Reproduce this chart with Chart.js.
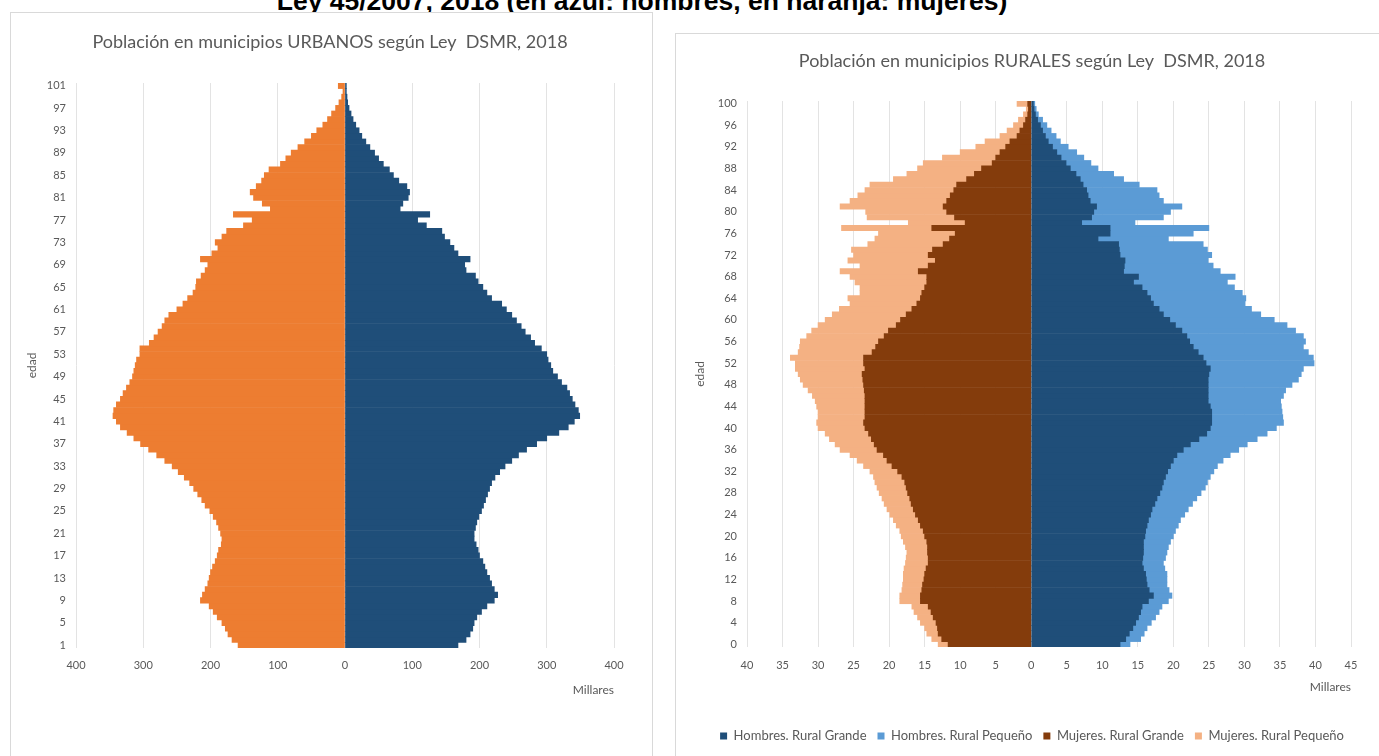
<!DOCTYPE html>
<html>
<head>
<meta charset="utf-8">
<script src="https://cdn.jsdelivr.net/npm/chart.js@4.4.0/dist/chart.umd.min.js"></script>
<style>
  body { margin: 0; background: #fff; width: 1379px; height: 756px; overflow: hidden; position: relative; }
  #cabecera { position: absolute; left: 142px; top: -12px; width: 1000px; text-align: center;
    font: bold 26.5px/26px "Liberation Sans", Arial, sans-serif; color: #000; white-space: nowrap; }
  .marco { position: absolute; border: 1px solid #d9d9d9; background: #fff; }
  canvas { position: absolute; }
</style>
</head>
<body>
<div id="cabecera">Ley 45/2007, 2018 (en azul: hombres, en naranja: mujeres)</div>
<div class="marco" style="left:10px; top:12px; width:641px; height:800px;"></div>
<div class="marco" style="left:675px; top:33px; width:800px; height:800px;"></div>
<canvas id="urbanos" width="640" height="744" style="left:10px; top:12px;"></canvas>
<canvas id="rurales" width="703" height="722" style="left:676px; top:34px;"></canvas>
<script>
// --- municipios urbanos (miles de personas) ---
var edadesU = [1,2,3,4,5,6,7,8,9,10,11,12,13,14,15,16,17,18,19,20,21,22,23,24,25,26,27,28,29,30,
  31,32,33,34,35,36,37,38,39,40,41,42,43,44,45,46,47,48,49,50,51,52,53,54,55,56,57,58,59,60,
  61,62,63,64,65,66,67,68,69,70,71,72,73,74,75,76,77,78,79,80,81,82,83,84,85,86,87,88,89,90,
  91,92,93,94,95,96,97,98,99,100,101];
var hombresU = [168,180,186,190,192,196,203,211,222,227,222,218,215,211,208,205,200,198,195,192,
  192,194,196,199,203,206,209,212,215,218,223,230,238,248,258,270,285,300,318,332,
  341,349,347,342,338,334,330,322,316,309,306,302,300,292,282,276,268,262,255,248,
  240,233,218,211,205,198,194,180,178,186,168,162,156,148,144,121,108,126,82,86,
  94,96,92,80,72,66,57,50,44,37,31,25,21,16,12,9,6,4,3,2,2];
var mujeresU = [159,168,174,178,183,190,196,202,215,212,208,204,202,200,197,193,190,188,184,183,
  185,188,191,196,201,208,213,219,225,231,239,248,257,268,280,292,304,314,324,334,
  340,345,344,340,334,330,325,320,316,314,312,310,305,305,291,284,278,272,268,262,
  250,241,234,226,222,221,214,208,204,215,198,189,193,183,176,151,138,166,111,123,
  136,141,132,124,120,113,96,88,80,70,60,50,42,33,26,20,14,9,5,3,10];
var etiquetasU = [1,5,9,13,17,21,25,29,33,37,41,45,49,53,57,61,65,69,73,77,81,85,89,93,97,101];

// --- municipios rurales (miles de personas) ---
var edadesR = [0,1,2,3,4,5,6,7,8,9,10,11,12,13,14,15,16,17,18,19,20,21,22,23,24,25,26,27,28,29,30,
  31,32,33,34,35,36,37,38,39,40,41,42,43,44,45,46,47,48,49,50,51,52,53,54,55,56,57,58,59,60,
  61,62,63,64,65,66,67,68,69,70,71,72,73,74,75,76,77,78,79,80,81,82,83,84,85,86,87,88,89,90,
  91,92,93,94,95,96,97,98,99,100];
var hombresGrande = [12.5,13.3,13.8,14.3,14.7,15.1,15.4,15.6,16.5,17.2,16.6,16.3,16.2,16.1,15.8,15.6,15.7,15.8,15.8,15.8,
  16.0,16.1,16.3,16.5,16.8,17.0,17.4,17.7,18.1,18.4,18.6,18.9,19.2,19.6,20.0,20.5,21.4,22.4,23.6,24.7,
  25.2,25.4,25.4,25.4,25.2,24.9,24.9,24.9,24.9,24.9,25.0,25.2,24.6,24.2,23.5,22.8,22.3,21.9,21.2,20.3,
  19.5,18.6,18.0,17.2,16.8,16.3,15.6,14.4,15.1,13.0,13.1,13.2,12.5,12.4,12.3,9.4,11.1,11.1,7.1,8.5,
  8.8,9.2,8.3,8.0,7.8,7.3,6.9,6.3,5.5,4.9,4.2,3.6,3.0,2.4,2.0,1.6,1.3,0.9,0.6,0.4,0.3];
var hombresPeque = [1.4,2.1,2.1,2.0,2.2,2.4,2.6,2.8,2.8,2.6,2.8,2.8,2.9,3.0,3.0,3.0,3.2,3.3,3.5,3.8,
  4.0,4.2,4.4,4.5,4.8,5.1,5.3,5.6,5.8,6.1,6.2,6.3,6.5,6.6,7.0,7.5,7.8,8.0,8.2,8.5,
  9.3,10.1,10.0,9.9,10.0,10.2,10.6,10.9,11.8,12.7,13.0,13.1,15.2,15.5,15.5,15.5,16.3,16.4,16.0,15.7,
  14.7,13.7,13.0,12.9,13.4,13.4,13.0,13.2,13.6,13.6,12.5,11.7,12.9,12.4,11.9,9.9,11.7,13.9,7.5,10.1,
  10.8,12.0,10.3,10.0,9.9,7.9,6.1,5.3,3.9,3.5,3.2,2.8,2.2,1.7,1.5,1.2,0.9,0.7,0.4,0.3,0.2];
var mujeresGrande = [11.7,12.6,13.1,13.2,13.4,13.8,14.1,14.5,15.6,15.6,15.4,15.3,15.1,15.0,14.8,14.5,14.5,14.6,14.6,14.7,
  15.0,15.2,15.6,15.9,16.3,16.6,16.9,17.1,17.4,17.6,17.8,18.2,18.8,19.6,20.3,20.8,21.7,22.1,22.5,22.9,
  23.4,23.6,23.4,23.4,23.4,23.4,23.4,23.5,23.6,23.7,23.8,23.4,23.6,23.6,22.4,21.9,21.5,20.7,20.1,19.0,
  18.4,17.6,16.8,16.1,15.6,15.4,15.0,14.7,14.7,15.9,14.5,13.5,14.5,13.9,12.4,11.5,10.7,14.0,9.3,10.8,
  11.9,12.4,11.9,11.4,10.9,10.5,9.1,8.0,7.0,5.5,5.0,4.4,3.6,3.0,2.0,1.6,1.1,0.8,0.5,0.4,0.5];
var mujeresPeque = [1.4,1.4,1.6,1.8,2.2,2.2,2.4,2.3,2.9,2.9,2.8,2.8,2.9,3.0,3.1,3.2,3.1,2.9,3.1,3.3,
  3.3,3.3,3.4,3.5,3.6,3.7,3.8,3.9,4.0,4.1,4.2,4.0,3.9,4.0,4.2,4.7,5.2,5.5,5.9,6.1,
  6.6,6.6,6.6,6.6,6.8,7.0,7.4,7.9,8.5,8.8,9.0,9.8,9.6,10.3,10.4,10.7,11.0,10.9,10.8,11.0,
  10.6,10.4,10.2,9.4,10.2,8.7,9.1,10.1,10.8,11.0,9.6,12.3,10.5,11.4,10.6,10.5,10.8,12.7,8.0,12.3,
  11.4,14.5,13.6,13.0,12.5,12.2,10.3,9.5,9.0,9.7,7.5,5.6,4.2,3.5,2.4,1.8,1.4,1.0,0.6,0.3,1.5];
var etiquetasR = [0,4,8,12,16,20,24,28,32,36,40,44,48,52,56,60,64,68,72,76,80,84,88,92,96,100];

var gris = '#595959';
var rejilla = '#e3e3e3';
Chart.defaults.font.family = 'Lato';
Chart.defaults.color = gris;

function negativo(arr) { return arr.map(function (v) { return -v; }); }

function escalas(minX, maxX, paso, etiquetas, o) {
  var s = {
    x: {
      type: 'linear', min: minX, max: maxX, stacked: true,
      ticks: { stepSize: paso, color: gris, font: { size: 11 }, padding: o.padX,
        callback: function (v) { return Math.abs(v); } },
      grid: { color: rejilla, drawTicks: false },
      border: { display: false },
      title: { display: true, text: 'Millares', align: 'end', color: gris, font: { size: 12 },
        padding: { top: 0, bottom: o.tituloAbajo } },
      afterFit: function (s) { s.height = o.altoX; }
    },
    y: {
      type: 'category', reverse: true, stacked: true,
      ticks: { autoSkip: false, color: gris, font: { size: 11 }, padding: 10,
        callback: function (v) {
          var e = this.getLabelForValue(v);
          return etiquetas.indexOf(e) >= 0 ? e : '';
        } },
      grid: { display: false, drawTicks: false },
      border: { display: false },
      title: { display: true, text: 'edad', color: gris, font: { size: 12 }, padding: 0 },
      afterFit: function (s) { s.width = o.anchoY; }
    },
    derecha: {
      position: 'right', display: true,
      grid: { display: false, drawTicks: false },
      border: { display: false },
      ticks: { display: false },
      afterFit: function (s) { s.width = o.anchoDer; }
    }
  };
  if (o.lineaCero) {
    // línea vertical en el cero, pintada encima de las barras
    s.cero = {
      type: 'linear', axis: 'x', position: 'bottom', min: minX, max: maxX, display: true, z: 1,
      ticks: { display: false, stepSize: paso },
      grid: { drawTicks: false, lineWidth: 1.5,
        color: function (c) { return c.tick && c.tick.value === 0 ? o.lineaCero : 'rgba(0,0,0,0)'; } },
      border: { display: false },
      afterFit: function (s) { s.height = 0; }
    };
  }
  return s;
}

var barra = { barPercentage: 1, categoryPercentage: 1, borderWidth: 0 };

new Chart(document.getElementById('urbanos'), {
  type: 'bar',
  data: {
    labels: edadesU,
    datasets: [
      Object.assign({ label: 'Hombres', data: hombresU, backgroundColor: '#1F4E79' }, barra),
      Object.assign({ label: 'Mujeres', data: negativo(mujeresU), backgroundColor: '#ED7D31' }, barra)
    ]
  },
  options: {
    indexAxis: 'y',
    responsive: false,
    animation: false,
    layout: { padding: { left: 15, right: 15, top: 0, bottom: 58.8 } },
    plugins: {
      legend: { display: false },
      tooltip: { enabled: false },
      title: { display: true, text: 'Población en municipios URBANOS según Ley  DSMR, 2018',
        color: gris, font: { size: 18, weight: 'normal' }, padding: { top: 19.2, bottom: 30.2 } }
    },
    scales: escalas(-400, 400, 100, etiquetasU, { padX: 11, tituloAbajo: 0, altoX: 49.2, anchoY: 51, anchoDer: 21 })
  }
});

new Chart(document.getElementById('rurales'), {
  type: 'bar',
  data: {
    labels: edadesR,
    datasets: [
      Object.assign({ label: 'Hombres. Rural Grande', data: hombresGrande, backgroundColor: '#1F4E79' }, barra),
      Object.assign({ label: 'Hombres. Rural Pequeño', data: hombresPeque, backgroundColor: '#5B9BD5' }, barra),
      Object.assign({ label: 'Mujeres. Rural Grande', data: negativo(mujeresGrande), backgroundColor: '#843C0C' }, barra),
      Object.assign({ label: 'Mujeres. Rural Pequeño', data: negativo(mujeresPeque), backgroundColor: '#F4B183' }, barra)
    ]
  },
  options: {
    indexAxis: 'y',
    responsive: false,
    animation: false,
    layout: { padding: { left: 17, right: 8, top: 0, bottom: 3.5 } },
    plugins: {
      legend: { display: true, position: 'bottom',
        labels: { boxWidth: 7, boxHeight: 7, padding: 11, color: gris, font: { size: 13 } } },
      tooltip: { enabled: false },
      title: { display: true, text: 'Población en municipios RURALES según Ley  DSMR, 2018',
        color: gris, font: { size: 18, weight: 'normal' }, padding: { top: 16.2, bottom: 29.2 } }
    },
    scales: escalas(-40, 45, 5, etiquetasR, { padX: 12, tituloAbajo: 24.3, altoX: 71.5, anchoY: 54, anchoDer: 20, lineaCero: '#F4B183' })
  }
});
</script>
</body>
</html>
